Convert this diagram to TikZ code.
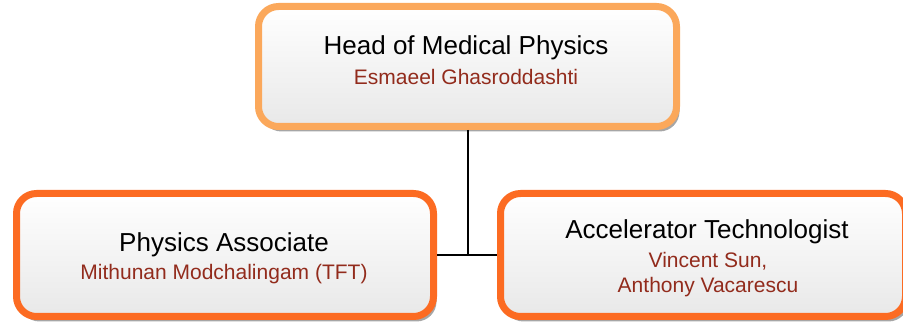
\documentclass[tikz,border=0pt]{standalone}
\usepackage{fontspec}
\setmainfont{Liberation Sans}
\definecolor{toporange}{HTML}{FBA85B}
\definecolor{suborange}{HTML}{FC6B22}
\definecolor{namered}{HTML}{922B1C}
\definecolor{shadowgray}{HTML}{A6A6A6}
\tikzset{
  box/.style={draw, line width=7pt, rounded corners=20pt, top color=white, bottom color=gray!18, inner sep=0pt},
  topbox/.style={box, draw=toporange},
  subbox/.style={box, draw=suborange},
  titletext/.style={anchor=base, inner sep=0pt, font=\fontsize{26}{30}\selectfont},
  nametext/.style={anchor=base, inner sep=0pt, text=namered, font=\fontsize{21}{25}\selectfont},
  conn/.style={draw=black, line width=2pt},
  shadowbox/.style={fill=shadowgray, rounded corners=20pt}
}
\begin{document}
\begin{tikzpicture}[x=1pt,y=1pt]
\useasboundingbox (0,0) rectangle (903,326);
% shadows
\fill[shadowbox] (261.5,194.5) rectangle (679.5,314.5);
\fill[shadowbox] (19.5,4.5) rectangle (436.5,127.5);
\fill[shadowbox] (503.5,4.5) rectangle (908.5,127.5);
% boxes
\node[topbox, minimum width=418pt, minimum height=120pt] (top) at (467.5,259.5) {};
\node[subbox, minimum width=417pt, minimum height=123pt] (left) at (225,71) {};
\node[subbox, minimum width=405pt, minimum height=123pt] (right) at (703,71) {};
% texts
\node[titletext] (toptitle) at (466,271) {Head of Medical Physics};
\node[nametext] (topname) at (466,241) {Esmaeel Ghasroddashti};
\node[titletext] (lefttitle) at (224,74) {Physics Associate};
\node[nametext] (leftname) at (224,46) {Mithunan Modchalingam (TFT)};
\node[titletext] (righttitle) at (707,87) {Accelerator Technologist};
\node[nametext] (rightname1) at (708,58) {Vincent Sun,};
\node[nametext] (rightname2) at (708,33) {Anthony Vacarescu};
% connectors
\draw[conn] (top.south) -- (top.south |- left.east);
\draw[conn] (left.east) -- (right.west);
\end{tikzpicture}
\end{document}
